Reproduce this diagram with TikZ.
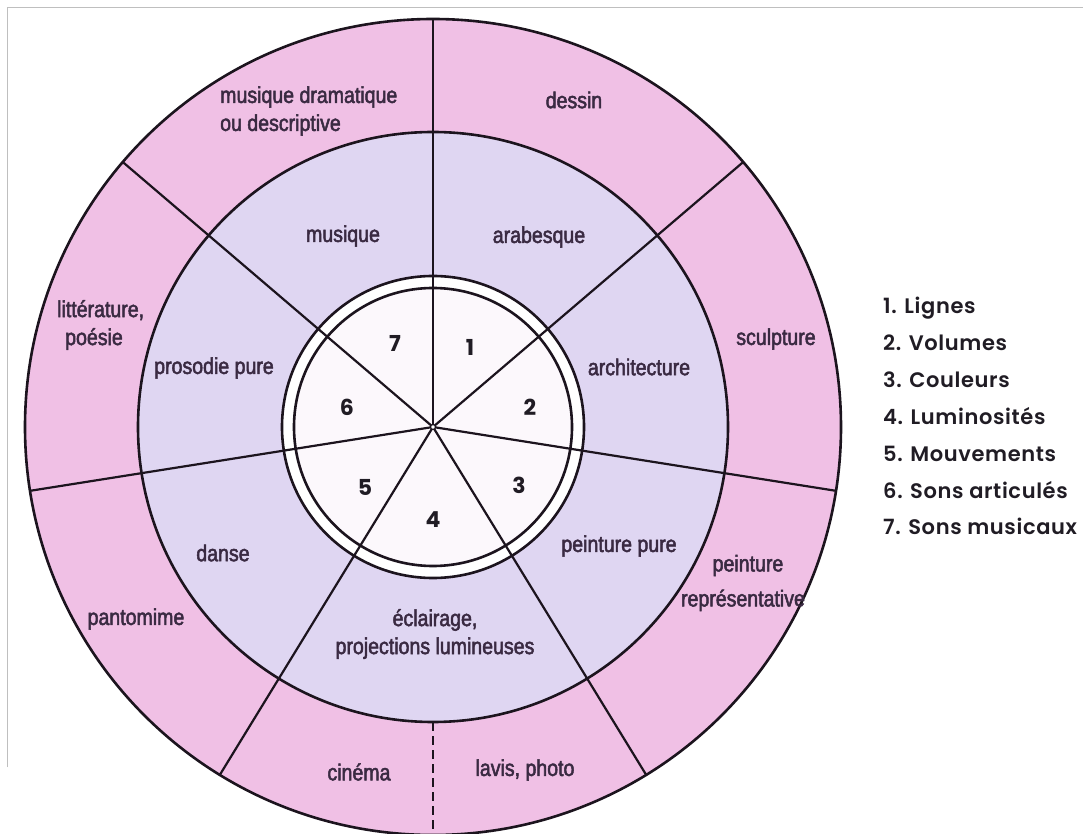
\documentclass[tikz,border=0pt]{standalone}
\usepackage{fontspec}
\setmainfont[FakeStretch=0.85,FakeBold=2.2]{Liberation Sans}
\newfontfamily\legfont[UprightFont=* SemiBold, LetterSpace=3]{Poppins}
\newfontfamily\numfont{Poppins}
\definecolor{outerpink}{RGB}{240,192,229}
\definecolor{midlav}{RGB}{223,214,242}
\definecolor{innerwhite}{RGB}{252,248,252}
\definecolor{txtc}{RGB}{58,42,66}
\definecolor{numc}{RGB}{32,28,36}
\definecolor{linec}{RGB}{28,20,30}
\tikzset{
  lbl/.style={font=\fontsize{23}{28}\selectfont, text=txtc, inner sep=0pt},
  num/.style={font=\numfont\bfseries\fontsize{22}{22}\selectfont, text=numc, inner sep=0pt},
  legitem/.style={font=\legfont\fontsize{21}{21}\selectfont, text=numc, anchor=base west, inner sep=0pt},
  ringline/.style={draw=linec, line width=2.6pt},
  spoke/.style={draw=linec, line width=2.2pt},
  pageedge/.style={draw=black!25, line width=1pt}
}
\begin{document}
\begin{tikzpicture}[x=1pt,y=1pt]
\useasboundingbox (-433,-407) rectangle (650,427);
\fill[white] (-433,-407) rectangle (650,427);
\coordinate (O) at (0,0);
% page edges
\draw[pageedge] (-425,-340) -- (-425,419) -- (650,419);
% fills
\fill[outerpink] (O) circle (408);
\fill[midlav] (O) circle (295);
\fill[white] (O) circle (151);
\fill[innerwhite] (O) circle (139);
% spokes
\foreach \a in {90,40.5,-9,-58.5,-121.5,-171,139.5}{
  \draw[spoke] (O) -- (\a:408);
}
\draw[spoke, dash pattern=on 9pt off 5pt] (-90:295) -- (-90:408);
% circles
\draw[ringline] (O) circle (408);
\draw[ringline] (O) circle (295);
\draw[ringline] (O) circle (151);
\draw[ringline] (O) circle (139);
\draw[linec, line width=1.2pt, fill=white] (O) circle (2.5);
% outer ring labels
\node[lbl, anchor=west, align=left] (musdram) at (-213,316) {musique dramatique\\ou descriptive};
\node[lbl] (dessin) at (141,327) {dessin};
\node[lbl] (sculpture) at (343,88) {sculpture};
\node[lbl, align=center] (peinrep) at (310,-156) {\hspace{10pt}peinture\\[7pt]représentative};
\node[lbl] (lavis) at (92,-343) {lavis, photo};
\node[lbl] (cinema) at (-74,-345) {cinéma};
\node[lbl] (pantomime) at (-297,-192) {pantomime};
\node[lbl, anchor=west, align=left] (litt) at (-376,102) {littérature,\\\hspace{8pt}poésie};
% middle ring labels
\node[lbl] (musique) at (-90,191) {musique};
\node[lbl] (arabesque) at (106,190) {arabesque};
\node[lbl] (architecture) at (206,60) {architecture};
\node[lbl] (peinpure) at (186,-119) {peinture pure};
\node[lbl, align=center] (eclairage) at (2,-207) {éclairage,\\projections lumineuses};
\node[lbl] (danse) at (-210,-126) {danse};
\node[lbl] (prosodie) at (-219,59) {prosodie pure};
% inner numbers
\node[num] (n1) at (37,80) {1};
\node[num] (n2) at (97,20) {2};
\node[num] (n3) at (86,-58) {3};
\node[num] (n4) at (0,-93) {4};
\node[num] (n5) at (-68,-60) {5};
\node[num] (n6) at (-86,20) {6};
\node[num] (n7) at (-38,84) {7};
% legend
\node[legitem] (l1) at (450,113.7) {1. Lignes};
\node[legitem] (l2) at (450,76.75) {2. Volumes};
\node[legitem] (l3) at (450,39.8) {3. Couleurs};
\node[legitem] (l4) at (450,2.85) {4. Luminosités};
\node[legitem] (l5) at (450,-34.1) {5. Mouvements};
\node[legitem] (l6) at (450,-71.05) {6. Sons articulés};
\node[legitem] (l7) at (450,-108) {7. Sons musicaux};
\end{tikzpicture}
\end{document}
